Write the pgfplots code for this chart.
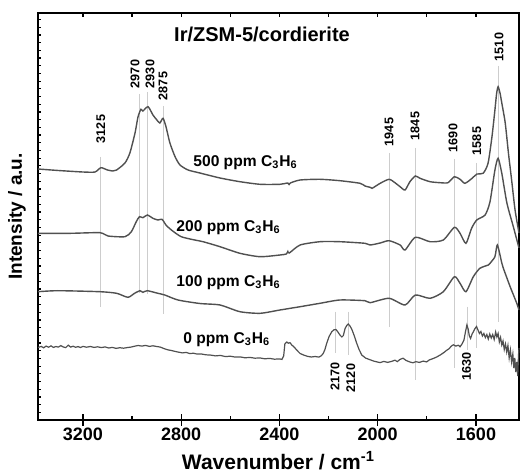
\documentclass[border=0pt]{standalone}
\usepackage{fontspec}
\setmainfont{Liberation Sans}
\usepackage{pgfplots}
\pgfplotsset{compat=1.18}
\definecolor{curve}{RGB}{80,80,80}
\definecolor{peak}{RGB}{205,205,205}
\begin{document}
\begin{tikzpicture}
\begin{axis}[name=ax, scale only axis, width=240.5pt, height=203.5pt,
  x dir=reverse, xmin=1425, xmax=3383, ymin=0, ymax=407,
  axis line style={line width=0.7pt},
  tick align=inside,
  xtick={1600,2000,2400,2800,3200}, minor xtick={1800,2200,2600,3000},
  xtick pos=bottom, ytick pos=left,
  major tick length=1.6pt, minor tick length=1.8pt,
  extra x ticks={1600,2000,2400,2800,3200}, extra x tick labels={},
  extra x tick style={tick align=center, major tick length=5.6pt},
  ytick={0,7.7,...,407}, yticklabels={},
  every tick/.style={black, line width=0.6pt},
  /pgf/number format/assume math mode=true,
  /pgf/number format/1000 sep={},
  xticklabel style={font=\fontsize{9}{10}\selectfont\bfseries, yshift=-3pt, inner sep=1pt},
  clip=false,
]
% peak marker lines
\draw[peak, line width=0.5pt] (axis cs:3127,263) -- (axis cs:3127,113.3);
\draw[peak, line width=0.5pt] (axis cs:2968,326) -- (axis cs:2968,126.7);
\draw[peak, line width=0.5pt] (axis cs:2938,328) -- (axis cs:2938,126);
\draw[peak, line width=0.5pt] (axis cs:2872,314) -- (axis cs:2872,106);
\draw[peak, line width=0.5pt] (axis cs:1954,267) -- (axis cs:1954,93.3);
\draw[peak, line width=0.5pt] (axis cs:1848,272) -- (axis cs:1848,40);
\draw[peak, line width=0.5pt] (axis cs:1686,261) -- (axis cs:1686,52);
\draw[peak, line width=0.5pt] (axis cs:1597,257) -- (axis cs:1597,72);
\draw[peak, line width=0.5pt] (axis cs:1510,354) -- (axis cs:1510,98.3);
\draw[peak, line width=0.5pt] (axis cs:2170,108.3) -- (axis cs:2170,67);
\draw[peak, line width=0.5pt] (axis cs:2120,108.3) -- (axis cs:2120,65);
\draw[peak, line width=0.5pt] (axis cs:1633,113.3) -- (axis cs:1633,70);
% top ticks
\draw[black, line width=0.6pt] (axis cs:3200,407) -- (axis cs:3200,403);
\draw[black, line width=0.6pt] (axis cs:3000,407) -- (axis cs:3000,403);
\draw[black, line width=0.6pt] (axis cs:2800,407) -- (axis cs:2800,403);
\draw[black, line width=0.6pt] (axis cs:2600,407) -- (axis cs:2600,403);
\draw[black, line width=0.6pt] (axis cs:2400,407) -- (axis cs:2400,403);
\draw[black, line width=0.6pt] (axis cs:2200,407) -- (axis cs:2200,403);
\draw[black, line width=0.6pt] (axis cs:2000,407) -- (axis cs:2000,403);
\draw[black, line width=0.6pt] (axis cs:1800,407) -- (axis cs:1800,403);
\draw[black, line width=0.6pt] (axis cs:1600,407) -- (axis cs:1600,403);

% 500 ppm
\addplot[curve, line width=0.7pt, smooth, tension=0.4] coordinates {
(3383,251) (3300,249.5) (3200,248) (3151,248) (3127,252.3) (3100,250) (3078,249)
(3063,250) (3029,257) (3009,267) (2988,287) (2976,303) (2964,310.7) (2956,309)
(2935,313.3) (2915,305) (2899,300) (2887,297) (2874,301.7) (2862,293.3) (2846,277)
(2825,263.3) (2805,255) (2772,250) (2724,247) (2642,242) (2561,238.3) (2479,235.7)
(2398,235.7) (2366,237) (2361,235.5) (2356,237) (2316,240) (2235,240.7) (2154,239.3)
(2072,236.7) (2052,234) (2031,232.7) (2023,231.7) (1990,236.7) (1954,240.7) (1930,237.3)
(1909,233.3) (1889,230) (1869,238.3) (1847,244) (1828,241.7) (1787,238.3) (1746,237.3)
(1714,237.3) (1688,243.3) (1665,240.7) (1645,236.7) (1616,241.7) (1596,246) (1571,246.7)
(1551,256.7) (1535,283.3) (1523,310) (1516,326.7) (1510,333.3) (1502,326.7) (1495,317)
(1481,297) (1468,267) (1455,240) (1441,210) (1425,187)
};
% 200 ppm
\addplot[curve, line width=0.7pt, smooth, tension=0.4] coordinates {
(3383,186.7) (3249,186.7) (3131,187.3) (3098,184) (3029,183.3) (3003,188.3) (2983,198.3)
(2970,203.3) (2956,202.3) (2938,205) (2915,201.7) (2895,200) (2878,200.7) (2862,195)
(2840,190) (2800,183.3) (2745,180) (2711,178.3) (2642,173.3) (2561,166.7) (2479,163.3)
(2398,165) (2372,166) (2366,168.5) (2360,167) (2316,175) (2235,178.3) (2154,178.3)
(2052,176.7) (2031,175) (1990,177) (1954,179.3) (1909,175) (1889,170) (1847,182.7)
(1787,178.3) (1733,180) (1688,192.7) (1665,186.7) (1641,176.7) (1618,191.7) (1597,200)
(1563,205) (1543,218.3) (1523,250) (1510,261.7) (1495,246.7) (1474,216.7) (1448,193.3)
(1425,172)
};
% 100 ppm
\addplot[curve, line width=0.7pt, smooth, tension=0.4] coordinates {
(3383,128.3) (3302,129.3) (3131,128.3) (3063,126.7) (3017,122.7) (2990,126.7) (2968,129.3)
(2956,127.7) (2938,129.3) (2895,126.7) (2867,125) (2813,120) (2724,116.5) (2642,115)
(2561,108.3) (2479,106.7) (2398,110) (2316,113.3) (2235,116.7) (2154,120) (2052,119.3)
(2031,117.3) (1954,121.7) (1889,115) (1847,125) (1787,121.7) (1733,128.3) (1688,143.3)
(1665,136.7) (1641,128.3) (1611,143.3) (1584,151.7) (1550,155) (1543,156.7) (1523,163.3)
(1513,175) (1495,157) (1489,152) (1461,133.3) (1434,116.7) (1425,110)
};
% 0 ppm
\addplot[curve, line width=0.6pt] coordinates {
(3383,72.5) (3370,73.6) (3360,72.2) (3350,73.9) (3340,72.8) (3330,74.1) (3320,72.6)
(3310,73.5) (3300,72.9) (3290,74.4) (3280,73.0) (3270,72.4) (3260,74.8) (3250,72.9)
(3240,73.8) (3230,72.7) (3220,73.4) (3210,72.5) (3200,73.6) (3185,72.8) (3170,73.5)
(3155,72.6) (3140,73.2) (3125,72.4) (3110,73.1) (3095,72.0) (3080,72.6) (3065,71.6)
(3050,72.3) (3035,71.8) (3020,72.4) (3005,72.9) (2990,73.8) (2975,74.5) (2960,73.9)
(2945,74.6) (2930,73.6) (2915,74.2) (2900,73.5) (2885,72.9) (2870,71.4) (2855,70.2)
(2840,69.5) (2825,68.6) (2810,67.8) (2795,67.1) (2780,67.6) (2765,66.4) (2750,66.8)
(2735,65.9) (2720,66.1) (2700,65.2) (2680,64.9) (2660,64.1) (2640,64.6) (2620,63.4)
(2600,63.8) (2580,62.9) (2560,63.1) (2540,62.2) (2520,62.6) (2500,61.8) (2480,62.1)
(2460,61.2) (2440,61.6) (2420,60.8) (2400,61.1) (2390,60.6) (2383,64) (2378,76.2)
(2370,78.0) (2364,76.8) (2357,77.3) (2350,75.0) (2343,73.6) (2337,72.0) (2326,69.0)
(2316,66.5) (2300,64.8) (2285,63.6) (2270,63.0) (2255,63.5) (2240,62.9) (2230,64.2)
(2222,66.5) (2215,70.5) (2208,76.5) (2198,83.5) (2187,88.3) (2178,90.2) (2170,90.5)
(2162,88.0) (2154,85.0) (2146,83.0) (2140,84.5) (2133,91.5) (2126,94.5) (2120,96.0)
(2113,94.0) (2106,91.0) (2096,84.5) (2086,77.0) (2076,70.5) (2065,65.0) (2050,62.0)
(2031,60.2) (2015,58.8) (2000,57.9) (1990,57.4) (1975,58.6) (1960,57.6) (1945,58.5)
(1930,59.8) (1920,58.4) (1910,60.5) (1897,61.8) (1885,59.6) (1870,58.1) (1857,57.2)
(1845,58.3) (1830,57.6) (1815,58.9) (1801,58.1) (1790,60.1) (1775,61.4) (1760,63.0)
(1745,65.1) (1730,67.6) (1719,69.8) (1710,71.2) (1700,74.0) (1692,75.2) (1682,73.9)
(1672,74.8) (1665,73.2) (1657,76.0) (1649,80.0) (1643,88.0) (1637,95.0) (1632,91.0)
(1627,84.0) (1622,81.5) (1616,86.0) (1610,88.5) (1604,91.5) (1598,93.5) (1592,90.0)
(1586,86.5) (1580,88.5) (1574,84.0) (1568,86.5) (1562,82.5) (1556,85.5) (1550,81.0)
(1544,86.0) (1538,82.0) (1532,85.5) (1526,80.5) (1520,88.0) (1515,83.0) (1510,86.5)
(1505,78.0) (1500,82.5) (1495,75.0) (1490,79.0) (1485,70.5) (1480,76.0) (1475,68.0)
(1470,74.5) (1465,62.0) (1460,70.0) (1455,58.0) (1450,66.0) (1446,52.0) (1442,62.0)
(1438,48.0) (1434,58.0) (1430,44.0) (1427,65.0) (1425,72.0)
};

% title and curve labels
\node[font=\fontsize{10}{12}\selectfont\bfseries] at (axis cs:2471,386) {Ir/ZSM-5/cordierite};
\node[anchor=west, font=\fontsize{7.8}{9}\selectfont\bfseries, inner sep=0pt] at (axis cs:2752,257) {500 ppm C\textsubscript{3}H\textsubscript{6}};
\node[anchor=west, font=\fontsize{7.8}{9}\selectfont\bfseries, inner sep=0pt] at (axis cs:2821,192) {200 ppm C\textsubscript{3}H\textsubscript{6}};
\node[anchor=west, font=\fontsize{7.8}{9}\selectfont\bfseries, inner sep=0pt] at (axis cs:2821,137) {100 ppm C\textsubscript{3}H\textsubscript{6}};
\node[anchor=west, font=\fontsize{7.8}{9}\selectfont\bfseries, inner sep=0pt] at (axis cs:2793,80) {0 ppm C\textsubscript{3}H\textsubscript{6}};
% peak labels
\begin{scope}[every node/.style={rotate=90, font=\fontsize{6.3}{7}\selectfont\bfseries, inner sep=0pt}]
\node at (axis cs:3127,291) {3125};
\node at (axis cs:2988,346) {2970};
\node at (axis cs:2927,346) {2930};
\node at (axis cs:2874,334) {2875};
\node at (axis cs:1954,288) {1945};
\node at (axis cs:1848,294) {1845};
\node at (axis cs:1693,282) {1690};
\node at (axis cs:1597,279) {1585};
\node at (axis cs:1506,373) {1510};
\node at (axis cs:2174,44) {2170};
\node at (axis cs:2110,42) {2120};
\node at (axis cs:1638,54) {1630};
\end{scope}
\end{axis}
\node[rotate=90, font=\fontsize{9.5}{11}\selectfont\bfseries] at ([xshift=-10.5pt]ax.west) {Intensity / a.u.};
\node[font=\fontsize{10.5}{12}\selectfont\bfseries, inner sep=1pt] at ([yshift=-20.5pt]ax.south) {Wavenumber / cm\textsuperscript{-1}};
\pgfresetboundingbox
\path[use as bounding box] ([xshift=-19pt,yshift=-26pt]ax.south west) rectangle ([xshift=0.5pt,yshift=6.5pt]ax.north east);
\end{tikzpicture}
\end{document}
